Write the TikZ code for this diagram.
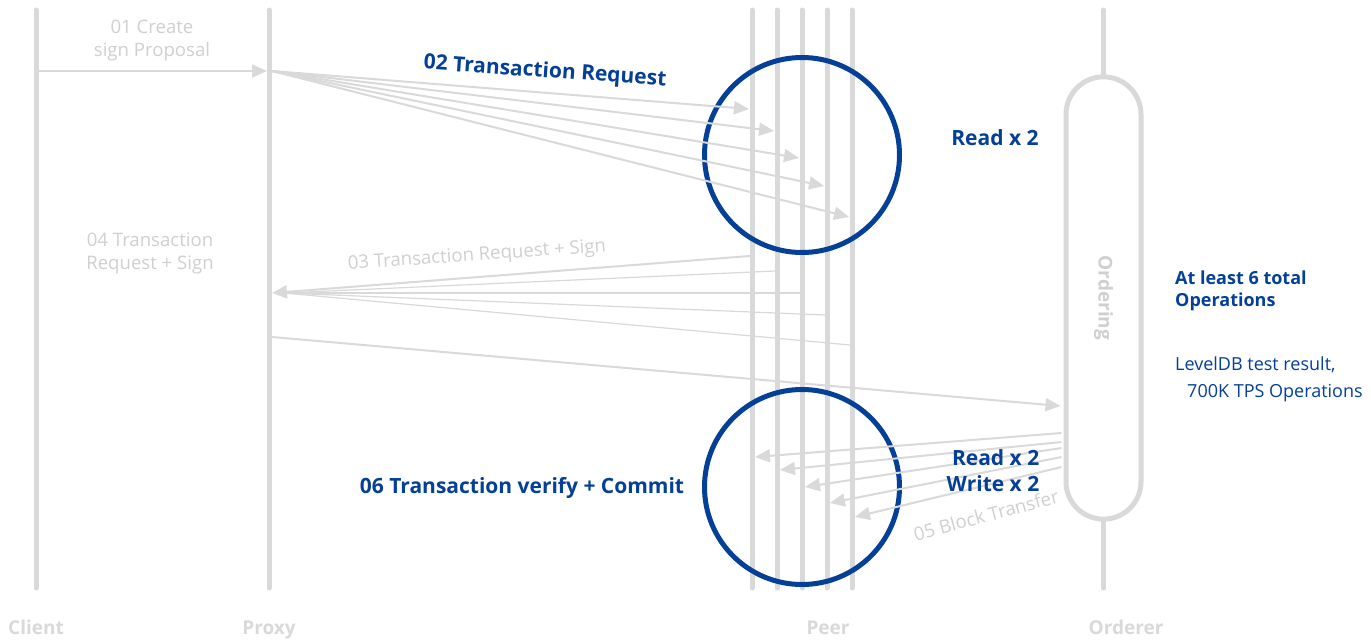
\documentclass[tikz,border=0pt]{standalone}
\usepackage{fontspec}
\setmainfont{Open Sans}
\usetikzlibrary{calc,positioning,arrows.meta,shapes.misc}

\definecolor{lifegray}{RGB}{217,217,217}
\definecolor{notegray}{RGB}{208,208,208}
\definecolor{opblue}{RGB}{4,64,152}

\tikzset{
    lifeline/.style={
        draw=lifegray,
        line width=5pt,
        line cap=round,
    },
    msg/.style={
        draw=lifegray,
        line width=2pt,
        -{Triangle[length=15pt,width=13pt]},
    },
    thinmsg/.style={
        draw=lifegray,
        line width=1.2pt,
    },
    pill/.style={
        rounded rectangle,
        draw=lifegray,
        line width=5pt,
        minimum width=449pt,
        minimum height=75pt,
        text=notegray,
        font=\fontsize{19}{22}\selectfont\bfseries,
    },
    hot/.style={
        circle,
        draw=opblue,
        line width=5pt,
        minimum size=195pt,
        inner sep=0pt,
    },
    actor/.style={
        text=lifegray,
        anchor=base,
        font=\fontsize{19}{22}\selectfont\bfseries,
    },
    note/.style={
        text=notegray,
        align=center,
        font=\fontsize{18.6}{23}\selectfont,
    },
    blue note/.style={
        text=opblue,
        align=center,
        font=\fontsize{21}{26}\selectfont\bfseries,
    },
    side note/.style={
        text=opblue,
        align=left,
        anchor=west,
        inner sep=0pt,
    },
}

\begin{document}
\begin{tikzpicture}[x=1pt,y=-1pt]
    \useasboundingbox[fill=white] (0,0) rectangle (1371,640);

    % lifelines
    \coordinate (client) at (36,10);
    \coordinate (client end) at (36,588);
    \coordinate (proxy) at (269,10);
    \coordinate (proxy end) at (269,588);
    \draw[lifeline] (client) -- (client end);
    \draw[lifeline] (proxy) -- (proxy end);
    \foreach \i/\x in {1/752,2/777,3/802,4/827,5/852}{
        \coordinate (peer\i) at (\x,10);
        \coordinate (peer\i end) at (\x,588);
        \draw[lifeline] (peer\i) -- (peer\i end);
    }
    \node[pill,rotate=-90] (ord) at (1103.5,298) {Ordering};
    \coordinate (orderer) at (1103.5,10);
    \coordinate (orderer end) at (1103.5,588);
    \draw[lifeline] (orderer) -- (ord.west);
    \draw[lifeline] (ord.east) -- (orderer end);

    \node[actor] (client lbl) at (36,634) {Client};
    \node[actor] (proxy lbl) at (269,634) {Proxy};
    \node[actor] (peer lbl) at (828,634) {Peer};
    \node[actor] (orderer lbl) at (1126,634) {Orderer};

    % read / commit zones on the peers
    \node[hot] (reads) at (802,155) {};
    \node[hot] (commit) at (802,487) {};

    % 01
    \coordinate (c01) at (38,71);
    \coordinate (p01) at (267,71);
    \draw[msg] (c01) -- (p01);
    \node[note] (n01) at (152,40) {01 Create\\sign Proposal};

    % 02 fan-out to the peers
    \coordinate (p02) at (272,71);
    \foreach \i/\y in {1/109,2/131,3/158,4/186,5/217}{
        \coordinate (r\i) at ($(peer\i |- 0,\y)+(-3,0)$);
        \draw[msg] (p02) -- (r\i);
    }
    \node[blue note,rotate=-4] (n02) at (545,72) {02 Transaction Request};

    % 03 replies back to the proxy
    \coordinate (p03) at (272,293);
    \coordinate (p03b) at (284,293);
    \coordinate (e1) at ($(peer1 |- 0,256)+(-2,0)$);
    \draw[msg] (e1) -- (p03);
    \foreach \i/\y in {2/271,3/293,4/315,5/345}{
        \coordinate (e\i) at ($(peer\i |- 0,\y)+(-2,0)$);
        \draw[thinmsg] (e\i) -- (p03b);
    }
    \node[note,rotate=4] (n03) at (477,256) {03 Transaction Request + Sign};

    % 04 to the orderer
    \coordinate (p04) at (272,337);
    \coordinate (o04) at ($(ord.south |- 0,406)+(-3,0)$);
    \draw[msg] (p04) -- (o04);
    \node[note] (n04) at (150,253) {04 Transaction\\Request + Sign};

    % 05 block transfer to the peers
    \foreach \i/\ya/\yb in {1/433/457,2/442/470,3/448/487,4/457/503,5/467/517}{
        \coordinate (o\i) at ($(ord.south |- 0,\ya)+(-2,0)$);
        \coordinate (b\i) at ($(peer\i |- 0,\yb)+(3,0)$);
        \draw[msg] (o\i) -- (b\i);
    }
    \node[note,rotate=15,inner sep=0pt] (n05) at (986,515) {05 Block Transfer};

    % operation counts
    \node[blue note] (rd) at (995,138) {Read x 2};
    \node[blue note,align=right,inner sep=0pt] (rw) at (993,471) {Read x 2\\Write x 2};
    \node[blue note] (n06) at (522,488) {06 Transaction verify + Commit};
    \node[side note,font=\fontsize{18}{22}\selectfont\bfseries] (ops) at (1175,291) {At least 6 total\\Operations};
    \node[side note,font=\fontsize{18}{27}\selectfont] (ldb) at (1175,379) {LevelDB test result,\\\hspace*{12pt}700K TPS Operations};
\end{tikzpicture}
\end{document}
